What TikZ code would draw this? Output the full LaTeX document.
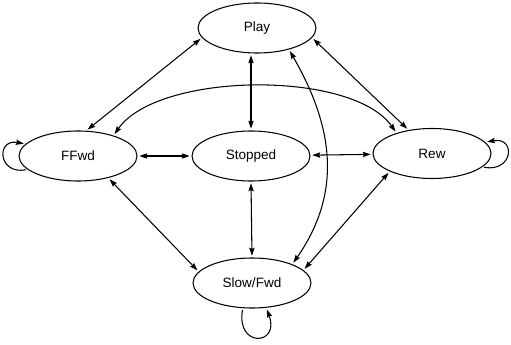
\documentclass[tikz,border=0pt]{standalone}
\usepackage{fontspec}
\setmainfont{Liberation Sans}
\usetikzlibrary{arrows.meta,positioning,shapes}

\begin{document}
\begin{tikzpicture}[<->,>={Stealth[length=4.5pt,width=3pt,inset=0.6pt]}, auto, shorten >=1pt, shorten <=1pt,
semithick,
    every node/.style={font=\fontsize{7.7}{9}\selectfont},
    mode/.style={ellipse, draw, minimum width=2.36cm, minimum height=1cm, inner sep=0pt}
    ]
\useasboundingbox (-5.02,-3.78) rectangle (5.2,3.12);
\node[mode] (Stopped) at (0,0)         {Stopped};
\node[mode] (Play)    at (0.12,2.56)   {Play};
\node[mode] (FFwd)    at (-3.46,0)     {FFwd};
\node[mode] (Rew)     at (3.62,0.05)   {Rew};
\node[mode] (Slow)    at (0.02,-2.54)  {Slow/Fwd};

\path
(Play.190)      edge [] (FFwd.72)
(Play.350)      edge [] (Rew.135)
(Stopped.north) edge [] (Stopped.north |- Play.south)
(FFwd)          edge [] (Stopped)
(Stopped)       edge [] (Rew)
(Stopped.south) edge [] (Slow.north)
(FFwd.324)      edge [] (Slow.168)
(Rew.203)       edge [] (Slow.14)
(FFwd.30)       edge [out=55, in=125, looseness=0.7] (Rew.150)
(Play.326)      edge [out=-60, in=55, looseness=1.05] (Slow.25)
;
\path
(FFwd.195) edge [->, out=190, in=170, looseness=3]   (FFwd.167)
(Rew.345)  edge [->, out=-10, in=10, looseness=3.2]  (Rew.12)
(Slow.250) edge [->, out=-100, in=-70, looseness=4.4] (Slow.300)
;
\end{tikzpicture}
\end{document}
